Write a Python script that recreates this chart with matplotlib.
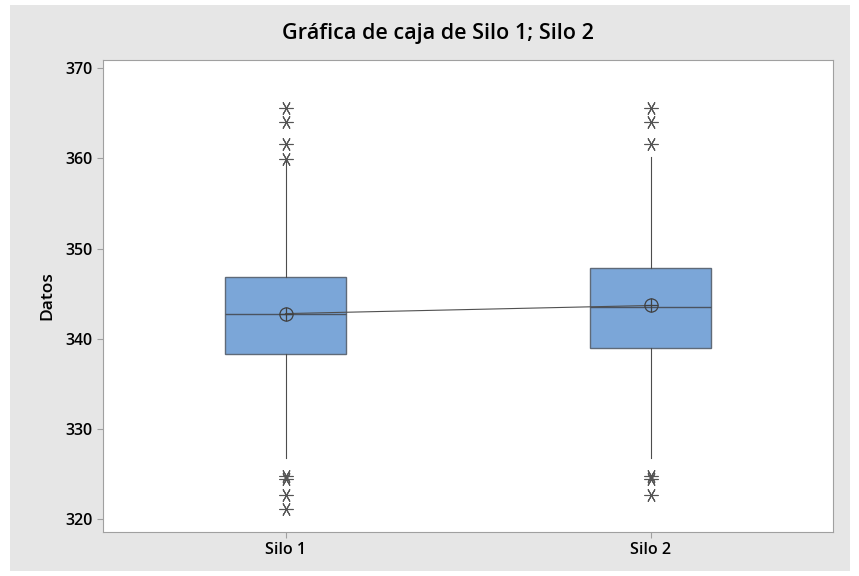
import numpy as np
import matplotlib.pyplot as plt

# resumen de cada silo (cuartiles, mediana, media, bigotes y atipicos)
grupos = ["Silo 1", "Silo 2"]
q1 = [338.3, 339.0]
mediana = [342.8, 343.55]
q3 = [346.8, 347.9]
media = [342.8, 343.7]
bigote_inf = [326.8, 326.8]
bigote_sup = [359.7, 360.2]
atipicos = [
    [365.6, 364.0, 361.6, 359.9, 324.75, 324.45, 322.75, 321.2],
    [365.6, 364.0, 361.55, 324.75, 324.45, 322.75],
]

plt.rcParams['font.family'] = ['Open Sans', 'DejaVu Sans']

fig = plt.figure(figsize=(8.59, 5.76), dpi=100)
fig.patch.set_facecolor('white')
# marco gris del grafico
fondo = plt.Rectangle((0.012, 0.008), 0.978, 0.984, transform=fig.transFigure,
                      facecolor='#e6e6e6', edgecolor='none', zorder=-10)
fig.patches.append(fondo)

ax = fig.add_axes([103 / 859, 1 - 532 / 576, 730 / 859, 472 / 576])
ax.set_facecolor('white')

stats = []
for i in range(len(grupos)):
    stats.append(dict(label=grupos[i], q1=q1[i], med=mediana[i], q3=q3[i],
                      whislo=bigote_inf[i], whishi=bigote_sup[i],
                      fliers=atipicos[i], mean=media[i]))

pos = np.arange(1, len(grupos) + 1)
gris = '#4d4d4d'
ax.bxp(stats, positions=pos, widths=0.33, patch_artist=True, showcaps=False,
       boxprops=dict(facecolor='#7ba6d8', edgecolor='#5f6a78', linewidth=1.0),
       medianprops=dict(color='#4a5360', linewidth=1.0),
       whiskerprops=dict(color=gris, linewidth=0.8),
       flierprops=dict(marker=(6, 2, 90), markersize=10, markeredgecolor='#555555',
                       markeredgewidth=0.8, linestyle='none'))

# linea que une las medias y simbolo de media
ax.plot(pos, media, color='#505050', linewidth=0.8, zorder=4)
ax.plot(pos, media, linestyle='none', marker='o', markersize=9.5, markerfacecolor='none',
        markeredgecolor='#404040', markeredgewidth=0.9, zorder=5)
ax.plot(pos, media, linestyle='none', marker='+', markersize=9.5,
        markeredgecolor='#404040', markeredgewidth=0.9, zorder=5)

ax.set_xlim(0.5, 2.5)
ax.set_ylim(318.6, 370.9)
ax.set_yticks([320, 330, 340, 350, 360, 370])
ax.set_xticks(pos)
ax.set_xticklabels(grupos)
for s in ax.spines.values():
    s.set_color('#a0a0a0')
    s.set_linewidth(0.8)
ax.tick_params(axis='both', colors='#a0a0a0', labelcolor='black', labelsize=11.5,
               length=4, width=0.8)
for t in ax.get_xticklabels() + ax.get_yticklabels():
    t.set_fontweight(600)
ax.set_ylabel('Datos', fontsize=12.5, fontweight=600, labelpad=7)
fig.text(438 / 859, 1 - 33 / 576, 'Gráfica de caja de Silo 1; Silo 2', ha='center', va='center',
         fontsize=15.5, fontweight=600)

fig.savefig('out.png', dpi=100)
